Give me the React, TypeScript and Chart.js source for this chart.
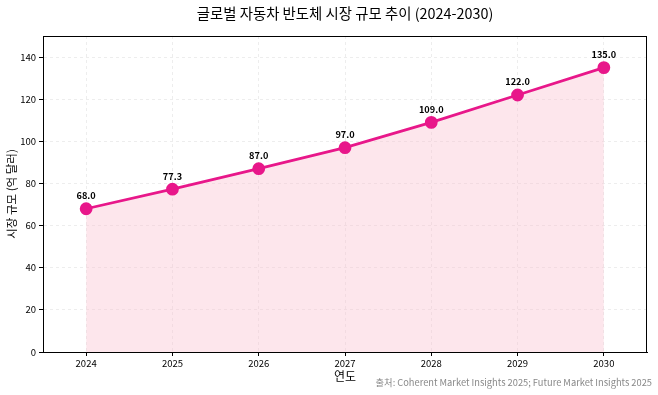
import React, { useEffect, useRef } from "react";
import { Chart, registerables } from "chart.js";

Chart.register(...registerables);

const years = ["2024", "2025", "2026", "2027", "2028", "2029", "2030"];
const marketSize = [68.0, 77.3, 87.0, 97.0, 109.0, 122.0, 135.0];
const yTicks = [0, 20, 40, 60, 80, 100, 120, 140];
const titleText = "글로벌 자동차 반도체 시장 규모 추이 (2024-2030)";
const yTitle = "시장 규모 (억 달러)";
const xTitle = "연도";
const sourceText = "출처: Coherent Market Insights 2025; Future Market Insights 2025";

const FONT = "'Noto Sans CJK KR', 'Noto Sans', sans-serif";
const LINE = "#e8178a";

export default function App() {
  const ref = useRef<HTMLCanvasElement | null>(null);

  useEffect(() => {
    document.body.style.margin = "0";
    const canvas = ref.current!;
    const extras = {
      id: "extras",
      afterDraw(chart: any) {
        const ctx = chart.ctx;
        const a = chart.chartArea;
        ctx.save();
        // frame
        ctx.strokeStyle = "#000";
        ctx.lineWidth = 1;
        ctx.strokeRect(a.left + 0.5, a.top + 0.5, a.right - a.left - 1, a.bottom - a.top);
        // title
        ctx.fillStyle = "#000";
        ctx.font = `14.4px ${FONT}`;
        ctx.textAlign = "center";
        ctx.textBaseline = "middle";
        ctx.fillText(titleText, (a.left + a.right) / 2, 14);
        // data labels
        const meta = chart.getDatasetMeta(0);
        ctx.font = `bold 9.2px ${FONT}`;
        ctx.textBaseline = "alphabetic";
        meta.data.forEach((pt: any, i: number) => {
          ctx.fillText(marketSize[i].toFixed(1), pt.x, pt.y - 9.5);
        });
        // source
        ctx.font = `9.3px ${FONT}`;
        ctx.fillStyle = "#888";
        ctx.textAlign = "right";
        ctx.textBaseline = "middle";
        ctx.fillText(sourceText, 652, 382);
        ctx.restore();
      },
    };

    const chart = new Chart(canvas, {
      type: "line",
      data: {
        labels: years,
        datasets: [
          {
            data: marketSize,
            borderColor: LINE,
            borderWidth: 2.8,
            backgroundColor: "rgba(250, 190, 206, 0.38)",
            fill: "origin",
            pointRadius: 5,
            pointBackgroundColor: LINE,
            pointBorderColor: LINE,
            tension: 0,
          },
        ],
      },
      options: {
        animation: false,
        responsive: false,
        layout: { padding: { top: 36, right: 11, left: 5, bottom: 11 } },
        plugins: { legend: { display: false }, tooltip: { enabled: false }, title: { display: false } },
        scales: {
          x: {
            type: "category",
            offset: true,
            afterFit: (s: any) => {
              s.height = 32;
            },
            grid: {
              offset: false,
              color: "rgba(0,0,0,0.07)",
              tickBorderDash: [],
              tickColor: "#000",
              tickLength: 4,
            },
            border: { display: true, color: "#000", dash: [3, 3] } as any,
            ticks: { color: "#000", font: { family: FONT, size: 9.5 }, padding: 2, maxRotation: 0 },
            title: { display: true, text: xTitle, color: "#000", font: { family: FONT, size: 12 }, padding: { top: 0, bottom: 0 } },
          },
          y: {
            min: 0,
            max: 150,
            afterFit: (s: any) => {
              s.width = 38;
            },
            afterBuildTicks: (s: any) => {
              s.ticks = yTicks.map((v) => ({ value: v }));
            },
            grid: {
              color: "rgba(0,0,0,0.07)",
              tickBorderDash: [],
              tickColor: "#000",
              tickLength: 4,
            } as any,
            border: { display: true, color: "#000", dash: [3, 3] } as any,
            ticks: { color: "#000", font: { family: FONT, size: 9.5 }, padding: 3 },
            title: { display: true, text: yTitle, color: "#000", font: { family: FONT, size: 11.5 }, padding: { top: 0, bottom: 2 } },
          },
        },
      } as any,
      plugins: [extras],
    });
    return () => chart.destroy();
  }, []);

  return (
    <div style={{ position: "absolute", left: 0, top: 0 }}>
      <canvas ref={ref} width={658} height={395} style={{ display: "block" }} />
    </div>
  );
}
